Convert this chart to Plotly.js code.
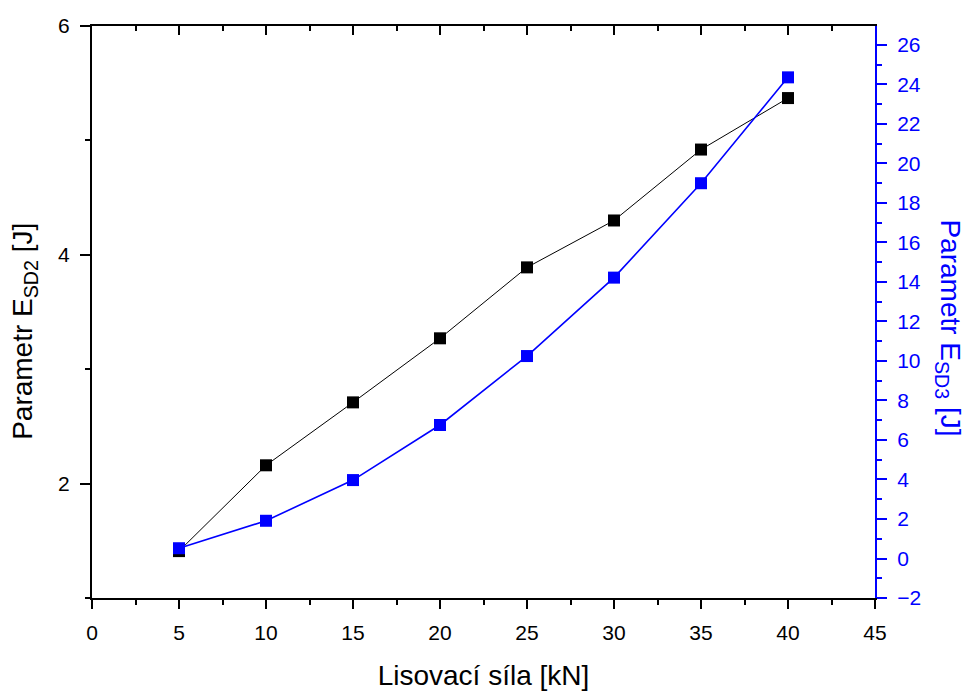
<!DOCTYPE html>
<html>
<head>
<meta charset="utf-8">
<script src="https://cdn.plot.ly/plotly-3.0.1.min.js"></script>
<style>
  html, body { margin: 0; padding: 0; background: #fff; }
  #chart { width: 969px; height: 691px; }
</style>
</head>
<body>
<div id="chart"></div>
<script>
// Pressing force [kN]
const force = [5, 10, 15, 20, 25, 30, 35, 40];
// Parameter E_SD2 [J] (left axis)
const esd2 = [1.41, 2.16, 2.71, 3.27, 3.89, 4.30, 4.92, 5.37];
// Parameter E_SD3 [J] (right axis)
const esd3 = [0.52, 1.91, 3.97, 6.76, 10.25, 14.22, 19.0, 24.36];

const FONT = '"Liberation Sans", Arial, sans-serif';
const BLUE = '#0000ff';
const TICK_SIZE = 21;
const TITLE_SIZE = 28;

const traces = [
  {
    x: force, y: esd2, xaxis: 'x', yaxis: 'y',
    mode: 'lines+markers', name: 'E_SD2',
    line: { color: '#000000', width: 1 },
    marker: { symbol: 'square', size: 12, color: '#000000' },
    hoverinfo: 'x+y'
  },
  {
    x: force, y: esd3, xaxis: 'x', yaxis: 'y2',
    mode: 'lines+markers', name: 'E_SD3',
    line: { color: BLUE, width: 1.6 },
    marker: { symbol: 'square', size: 12, color: BLUE },
    hoverinfo: 'x+y'
  },
  // carrier for the top frame axis (draws nothing)
  {
    x: force, y: esd2, xaxis: 'x2', yaxis: 'y',
    mode: 'none', showlegend: false, hoverinfo: 'skip'
  }
];

const layout = {
  width: 969, height: 691,
  margin: { l: 92, r: 94, t: 26, b: 93 },
  paper_bgcolor: '#ffffff', plot_bgcolor: '#ffffff',
  showlegend: false,
  font: { family: FONT, size: TICK_SIZE, color: '#000000' },
  xaxis: {
    range: [0, 45], tick0: 0, dtick: 5,
    showgrid: false, zeroline: false,
    showline: true, linecolor: '#000000', linewidth: 2,
    ticks: 'outside', ticklen: 9, tickwidth: 2, tickcolor: '#000000',
    minor: { dtick: 2.5, ticks: 'outside', ticklen: 5, tickwidth: 2, tickcolor: '#000000', showgrid: false },
    tickfont: { family: FONT, size: TICK_SIZE, color: '#000000' },
    ticklabelstandoff: 6,
    title: { text: 'Lisovací síla [kN]', font: { family: FONT, size: TITLE_SIZE, color: '#000000' }, standoff: 22 }
  },
  xaxis2: {
    overlaying: 'x', anchor: 'y', side: 'top', matches: 'x',
    range: [0, 45], tick0: 0, dtick: 5,
    showgrid: false, zeroline: false, showticklabels: false,
    showline: true, linecolor: '#000000', linewidth: 2,
    ticks: 'inside', ticklen: 9, tickwidth: 2, tickcolor: '#000000',
    minor: { dtick: 2.5, ticks: 'inside', ticklen: 5, tickwidth: 2, tickcolor: '#000000', showgrid: false }
  },
  yaxis: {
    range: [1, 6], tick0: 0, dtick: 2,
    showgrid: false, zeroline: false,
    showline: true, linecolor: '#000000', linewidth: 2,
    ticks: 'outside', ticklen: 10, tickwidth: 2, tickcolor: '#000000',
    minor: { dtick: 1, ticks: 'outside', ticklen: 5, tickwidth: 2, tickcolor: '#000000', showgrid: false },
    tickfont: { family: FONT, size: TICK_SIZE, color: '#000000' },
    ticklabelstandoff: 6
  },
  yaxis2: {
    overlaying: 'y', side: 'right', anchor: 'x',
    range: [-2, 26.96], tick0: 0, dtick: 2,
    showgrid: false, zeroline: false,
    showline: true, linecolor: BLUE, linewidth: 2,
    ticks: 'outside', ticklen: 10, tickwidth: 2, tickcolor: BLUE,
    minor: { dtick: 1, ticks: 'outside', ticklen: 5, tickwidth: 2, tickcolor: BLUE, showgrid: false },
    tickfont: { family: FONT, size: TICK_SIZE, color: BLUE },
    ticklabelstandoff: 6
  },
  annotations: [
    {
      xref: 'paper', yref: 'paper', x: -0.0856, y: 0.467,
      text: 'Parametr E<sub>SD2</sub> [J]', textangle: -90,
      showarrow: false, xanchor: 'center', yanchor: 'middle',
      font: { family: FONT, size: TITLE_SIZE, color: '#000000' }
    },
    {
      xref: 'paper', yref: 'paper', x: 1.094, y: 0.472,
      text: 'Parametr E<sub>SD3</sub> [J]', textangle: 90,
      showarrow: false, xanchor: 'center', yanchor: 'middle',
      font: { family: FONT, size: TITLE_SIZE, color: BLUE }
    }
  ]
};

Plotly.newPlot('chart', traces, layout, { displayModeBar: false, staticPlot: true });
</script>
</body>
</html>
